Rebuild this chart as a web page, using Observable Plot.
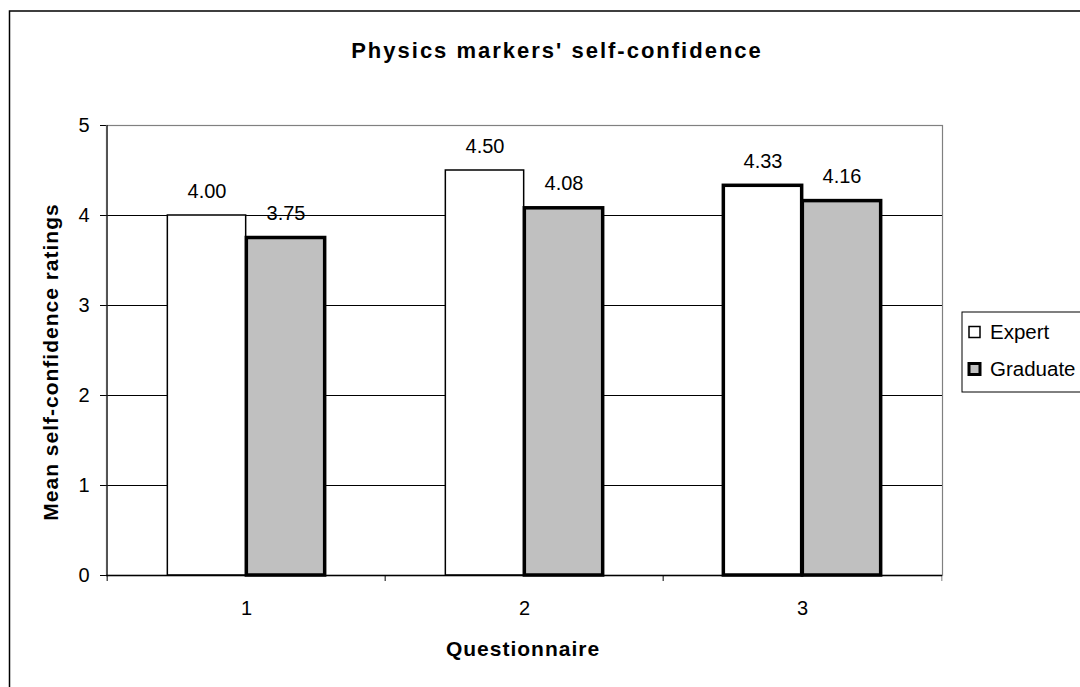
<!DOCTYPE html>
<html>
<head>
<meta charset="utf-8">
<script src="https://cdn.jsdelivr.net/npm/d3@7"></script>
<script src="https://cdn.jsdelivr.net/npm/@observablehq/plot@0.6"></script>
<style>
html, body { margin: 0; padding: 0; background: #fff; overflow: hidden; }
#wrap { position: relative; width: 1080px; height: 687px; overflow: hidden; }
</style>
</head>
<body>
<div id="wrap"></div>
<script>
// ---- data ----
const questionnaires = ["1", "2", "3"];
const seriesNames = ["Expert", "Graduate"];
const expertValues = [4.00, 4.50, 4.33];
const graduateValues = [3.75, 4.08, 4.16];
const yTicks = [0, 1, 2, 3, 4, 5];
const gridValues = [1, 2, 3, 4];
const titleText = "Physics markers' self-confidence";
const xLabelText = "Questionnaire";
const yLabelText = "Mean self-confidence ratings";

const rows = questionnaires.flatMap((q, i) => [
  {q, series: seriesNames[0], value: expertValues[i]},
  {q, series: seriesNames[1], value: graduateValues[i]}
]);
const expertRows = rows.filter(d => d.series === "Expert");
const graduateRows = rows.filter(d => d.series === "Graduate");

// ---- layout ----
const W = 1080, H = 687;
const mL = 106, mR = 138, mT = 125, mB = 112;
const bw = (W - mL - mR) / questionnaires.length;
const barW = 79;
const plotH = H - mT - mB;
const font = "'Liberation Sans', Arial, sans-serif";

const plot = Plot.plot({
  width: W,
  height: H,
  marginLeft: mL,
  marginRight: mR,
  marginTop: mT,
  marginBottom: mB,
  style: {fontFamily: font, fontSize: "20px", color: "#000", background: "transparent", overflow: "visible"},
  x: {type: "band", domain: questionnaires, padding: 0, tickSize: 0, tickPadding: 25, label: null},
  y: {domain: [0, 5], ticks: yTicks, tickSize: 6, tickPadding: 11, label: null, tickFormat: d3.format("d")},
  marks: [
    Plot.frame({stroke: "#808080", strokeWidth: 1.2}),
    Plot.ruleY(gridValues, {stroke: "#000", strokeWidth: 1}),
    // category boundary ticks below the axis
    Plot.ruleX(questionnaires, {x: d => d, dx: -bw / 2, insetTop: plotH, insetBottom: -6, stroke: "#000"}),
    Plot.ruleX([questionnaires[questionnaires.length - 1]], {x: d => d, dx: bw / 2, insetTop: plotH, insetBottom: -6, stroke: "#808080"}),
    // y axis line
    Plot.ruleX([questionnaires[0]], {x: d => d, dx: -bw / 2, stroke: "#222", strokeWidth: 1.2}),
    // bars
    Plot.barY(expertRows, {filter: d => d.q !== "3", x: "q", y: "value", fill: "#fff", stroke: "#000", strokeWidth: 1.5,
      insetLeft: bw / 2 - barW, insetRight: bw / 2}),
    Plot.barY(expertRows, {filter: d => d.q === "3", x: "q", y: "value", fill: "#fff", stroke: "#000", strokeWidth: 3.5,
      insetLeft: bw / 2 - barW, insetRight: bw / 2}),
    Plot.barY(graduateRows, {x: "q", y: "value", fill: "#c0c0c0", stroke: "#000", strokeWidth: 3.5,
      insetLeft: bw / 2, insetRight: bw / 2 - barW}),
    Plot.ruleY([0], {stroke: "#000", strokeWidth: 1.5}),
    // value labels
    Plot.text(expertRows, {x: "q", y: "value", text: d => d.value.toFixed(2), dx: -barW / 2, dy: -18,
      lineAnchor: "bottom", fontSize: 20, fill: "#000"}),
    Plot.text(graduateRows, {x: "q", y: "value", text: d => d.value.toFixed(2), dx: barW / 2, dy: -18,
      lineAnchor: "bottom", fontSize: 20, fill: "#000"})
  ]
});

document.getElementById("wrap").appendChild(plot);

// ---- decorations: outer border, title, axis titles, legend ----
const svg = d3.select(plot);
svg.insert("rect", ":first-child")
  .attr("x", 9.5).attr("y", 11).attr("width", 1300).attr("height", 1000)
  .attr("fill", "none").attr("stroke", "#000").attr("stroke-width", 1.5);

svg.append("text")
  .attr("x", 557).attr("y", 58)
  .attr("text-anchor", "middle")
  .style("font-family", font).style("font-weight", "bold").style("font-size", "22px")
  .style("letter-spacing", "2px")
  .attr("fill", "#000")
  .text(titleText);

svg.append("text")
  .attr("transform", "translate(58,362) rotate(-90)")
  .attr("text-anchor", "middle")
  .style("font-family", font).style("font-weight", "bold").style("font-size", "21px")
  .style("letter-spacing", "1px")
  .attr("fill", "#000")
  .text(yLabelText);

svg.append("text")
  .attr("x", 523).attr("y", 656)
  .attr("text-anchor", "middle")
  .style("font-family", font).style("font-weight", "bold").style("font-size", "21px")
  .style("letter-spacing", "1px")
  .attr("fill", "#000")
  .text(xLabelText);

const lg = svg.append("g").attr("text-anchor", "start");
lg.append("rect").attr("x", 962).attr("y", 312).attr("width", 300).attr("height", 80)
  .attr("fill", "#fff").attr("stroke", "#000").attr("stroke-width", 1);
const legendStyles = [
  {fill: "#fff", sw: 1.5},
  {fill: "#c0c0c0", sw: 3}
];
seriesNames.forEach((name, i) => {
  const cy = 332 + i * 37;
  lg.append("rect").attr("x", 969).attr("y", cy - 5.5).attr("width", 11).attr("height", 11)
    .attr("fill", legendStyles[i].fill).attr("stroke", "#000").attr("stroke-width", legendStyles[i].sw);
  lg.append("text").attr("x", 990).attr("y", cy + 7)
    .attr("text-anchor", "start")
    .style("font-family", font).style("font-size", "20.5px").attr("fill", "#000")
    .text(name);
});
</script>
</body>
</html>
